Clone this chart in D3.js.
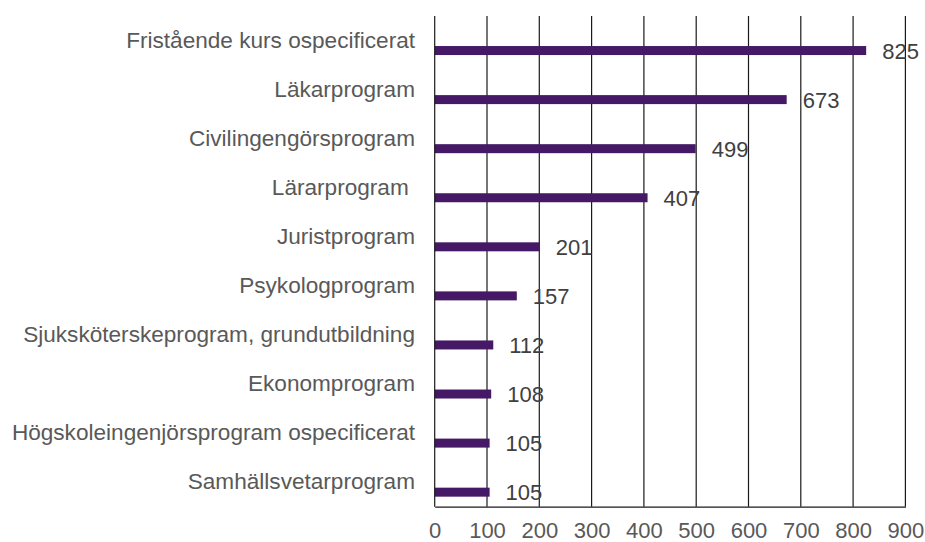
<!DOCTYPE html>
<html>
<head>
<meta charset="utf-8">
<script src="https://cdn.jsdelivr.net/npm/d3@7"></script>
<style>
  html, body { margin: 0; padding: 0; background: #fff; }
  svg { display: block; }
</style>
</head>
<body>
<svg id="chart" width="925" height="542"></svg>
<script>
const categories = [
  "Fristående kurs ospecificerat",
  "Läkarprogram",
  "Civilingengörsprogram",
  "Lärarprogram ",
  "Juristprogram",
  "Psykologprogram",
  "Sjuksköterskeprogram, grundutbildning",
  "Ekonomprogram",
  "Högskoleingenjörsprogram ospecificerat",
  "Samhällsvetarprogram"
];
const values = [825, 673, 499, 407, 201, 157, 112, 108, 105, 105];
const xTicks = [0, 100, 200, 300, 400, 500, 600, 700, 800, 900];

const svg = d3.select("#chart");
const margin = { left: 434.7, right: 925 - 905.4, top: 16, bottom: 542 - 506.7 };
const W = 925, H = 542;
const font = "'Liberation Sans', Arial, sans-serif";

const x = d3.scaleLinear().domain([0, 900]).range([margin.left, W - margin.right]);
const y = d3.scaleBand().domain(categories).range([margin.top, H - margin.bottom]).padding(0);
const bw = y.bandwidth();

// grid lines
svg.append("g")
  .selectAll("line")
  .data(xTicks.slice(1))
  .join("line")
  .attr("x1", d => x(d)).attr("x2", d => x(d))
  .attr("y1", margin.top).attr("y2", H - margin.bottom)
  .attr("stroke", "#1a1a1a").attr("stroke-width", 1.2);

// bars
svg.append("g")
  .selectAll("rect")
  .data(values)
  .join("rect")
  .attr("x", x(0))
  .attr("y", (d, i) => y(categories[i]) + bw / 2 + 10 - 4.5)
  .attr("width", d => x(d) - x(0))
  .attr("height", 9)
  .attr("fill", "#461966");

// axes lines
svg.append("line")
  .attr("x1", x(0)).attr("x2", x(0))
  .attr("y1", margin.top).attr("y2", H - margin.bottom)
  .attr("stroke", "#1a1a1a").attr("stroke-width", 1.2);

const xAxis = d3.axisBottom(x).tickValues(xTicks).tickSize(0).tickPadding(16).tickFormat(d3.format("d"));
const gx = svg.append("g")
  .attr("transform", `translate(0,${H - margin.bottom})`)
  .call(xAxis);
gx.select(".domain").attr("stroke", "#1a1a1a").attr("stroke-width", 1.2);
gx.selectAll("text")
  .attr("font-family", font).attr("font-size", 22).attr("fill", "#595959");

// category labels
svg.append("g")
  .selectAll("text")
  .data(categories)
  .join("text")
  .attr("x", 415)
  .attr("y", d => y(d) + bw / 2 + 7)
  .attr("text-anchor", "end")
  .attr("font-family", font)
  .attr("font-size", 22.6)
  .attr("fill", "#595959")
  .style("white-space", "pre")
  .text(d => d);

// value labels
svg.append("g")
  .selectAll("text")
  .data(values)
  .join("text")
  .attr("x", d => x(d) + 16)
  .attr("y", (d, i) => y(categories[i]) + bw / 2 + 10 + 8)
  .attr("font-family", font)
  .attr("font-size", 22)
  .attr("fill", "#404040")
  .text(d => d);
</script>
</body>
</html>
